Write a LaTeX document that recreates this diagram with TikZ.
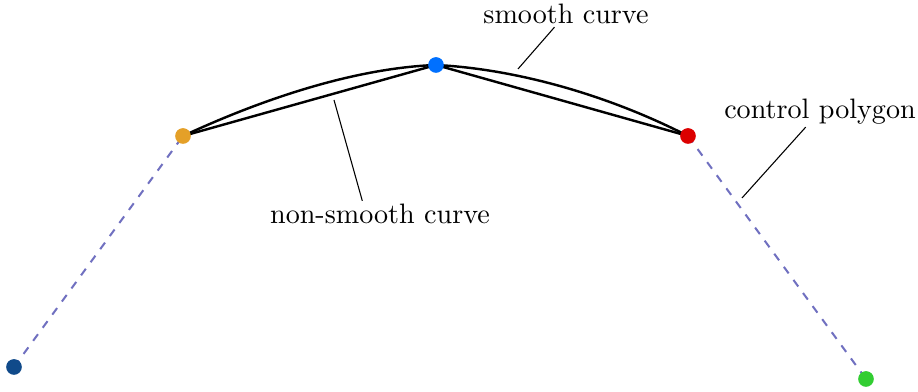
\documentclass[tikz,border=0pt]{standalone}
\usepackage{tikz}
\usetikzlibrary{positioning}
\definecolor{splineDarkBlue}{RGB}{16, 74, 138}
\definecolor{splineOrange}{RGB}{228, 160, 40}
\definecolor{splineBlue}{RGB}{0, 112, 255}
\definecolor{splineRed}{RGB}{220, 0, 0}
\definecolor{splineGreen}{RGB}{50, 205, 50}
\definecolor{splinePolygon}{RGB}{112, 112, 192}

\begin{document}
\begin{tikzpicture}[
  dot/.style={circle, inner sep=0pt, minimum size=5.8pt},
  curve/.style={line width=0.9pt, line join=round},
  polygon/.style={dashed, line width=0.75pt, splinePolygon},
  label/.style={inner sep=1pt, font=\fontsize{10.4}{12.5}\selectfont},
  leader/.style={thin}
]
\useasboundingbox (0,0) rectangle (11.934,5.096);

\coordinate (p0) at (0.182,0.325);
\coordinate (p1) at (2.379,3.328);
\coordinate (p2) at (5.668,4.251);
\coordinate (p3) at (8.944,3.328);
\coordinate (p4) at (11.258,0.169);

% control polygon
\draw[polygon] (p0) -- (p1);
\draw[polygon] (p3) -- (p4);

% non-smooth and smooth curve
\draw[curve] (p1) -- (p2) -- (p3);
\draw[curve] (p1) .. controls (3.440,3.822) and (4.628,4.212) .. (p2)
                  .. controls (6.708,4.199) and (7.904,3.861) .. (p3);

\node[dot, fill=splineDarkBlue] (d0) at (p0) {};
\node[dot, fill=splineOrange] (d1) at (p1) {};
\node[dot, fill=splineBlue] (d2) at (p2) {};
\node[dot, fill=splineRed] (d3) at (p3) {};
\node[dot, fill=splineGreen] (d4) at (p4) {};

\node[label] (smoothlabel) at (7.358,4.914) {smooth curve};
\node[label] (polygonlabel) at (10.660,3.650) {control polygon};
\node[label] (nonsmoothlabel) at (4.940,2.314) {non-smooth curve};

\coordinate (smoothtip) at (6.734,4.199);
\coordinate (polygontip) at (9.646,2.522);
\coordinate (nonsmoothtip) at (4.342,3.796);

\draw[leader] (smoothlabel) -- (smoothtip);
\draw[leader] (polygonlabel) -- (polygontip);
\draw[leader] ([xshift=-0.23cm]nonsmoothlabel.north) -- (nonsmoothtip);
\end{tikzpicture}
\end{document}
